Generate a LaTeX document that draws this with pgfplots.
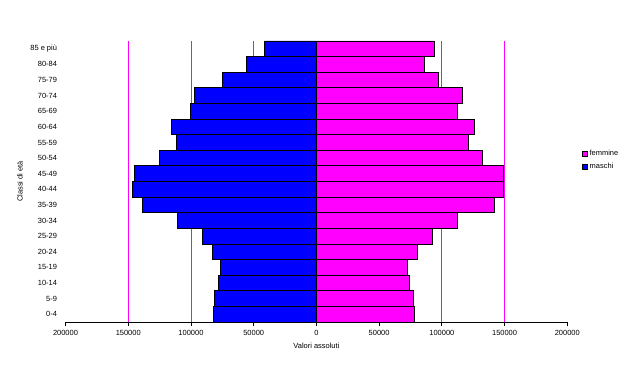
\documentclass[border=0pt]{standalone}
\usepackage{fontspec}
\setmainfont{Liberation Sans}
\usepackage{pgfplots}
\pgfplotsset{compat=1.18}
\definecolor{fem}{RGB}{255,0,255}
\definecolor{mas}{RGB}{0,0,255}
\begin{document}
\begin{tikzpicture}
\useasboundingbox (0,0) rectangle (642bp,365bp);
\begin{axis}[
 at={(65.5bp,43bp)}, anchor=south west,
 width=501.8bp, height=281bp, scale only axis,
 xmin=-200000, xmax=200000, ymin=-0.5, ymax=17.5,
 xbar, bar width=15.61bp, bar shift=0pt,
 axis x line=bottom, axis y line=left,
 x axis line style={-, line width=0.8bp},
 y axis line style={draw=none},
 xtick={-200000,-150000,-100000,-50000,0,50000,100000,150000,200000},
 xticklabels={200000,150000,100000,50000,0,50000,100000,150000,200000},
 scaled x ticks=false,
 tick align=outside,
 x tick style={black, line width=0.8bp},
 major tick length=4bp,
 extra x ticks={-150000,-100000,-50000,50000,100000,150000},
 extra x tick labels={},
 extra x tick style={grid=major, major grid style={fem, line width=0.8bp}, major tick length=0pt},
 ytick={0,...,17},
 yticklabels={0-4,5-9,10-14,15-19,20-24,25-29,30-34,35-39,40-44,45-49,50-54,55-59,60-64,65-69,70-74,75-79,80-84,85 e più},
 y tick style={draw=none},
 yticklabel style={font=\fontsize{7.5}{8}\selectfont, xshift=-1bp},
 xticklabel style={font=\fontsize{7.5}{8}\selectfont, yshift=-1bp},
 /pgf/number format/assume math mode=true,
 xlabel={Valori assoluti},
 xlabel style={font=\fontsize{7.5}{8}\selectfont, at={(axis description cs:0.5,-0.0854)}, anchor=center},
 ylabel={Classi di età},
 ylabel style={font=\fontsize{7.5}{8}\selectfont, at={(axis description cs:-0.0907,0.5)}, anchor=center, rotate=0},
 legend style={draw=none, fill=none, at={(axis description cs:1.029,0.62)}, anchor=north west,
   font=\fontsize{7.5}{8}\selectfont, row sep=2bp, inner sep=0pt},
 legend cell align=left,
 legend image code/.code={\draw[#1, line width=0.6bp] (0bp,-2.5bp) rectangle (5bp,2.5bp);},
 clip=false,
]
\addplot[draw=black, fill=fem, line width=0.8bp] coordinates {
(78100,0) (77300,1) (74100,2) (72500,3) (80500,4) (92500,5) (112400,6) (141900,7) (149000,8) (149000,9) (132300,10) (121100,11) (125900,12) (112400,13) (116400,14) (97200,15) (86100,16) (94000,17)};
\addlegendentry{femmine}
\addplot[draw=black, fill=mas, line width=0.8bp] coordinates {
(-82100,0) (-81300,1) (-78100,2) (-76200,3) (-82900,4) (-90900,5) (-110800,6) (-138700,7) (-146300,8) (-145000,9) (-125100,10) (-111600,11) (-115600,12) (-100400,13) (-97200,14) (-74600,15) (-55800,16) (-41400,17)};
\addlegendentry{maschi}
\end{axis}
\end{tikzpicture}
\end{document}
